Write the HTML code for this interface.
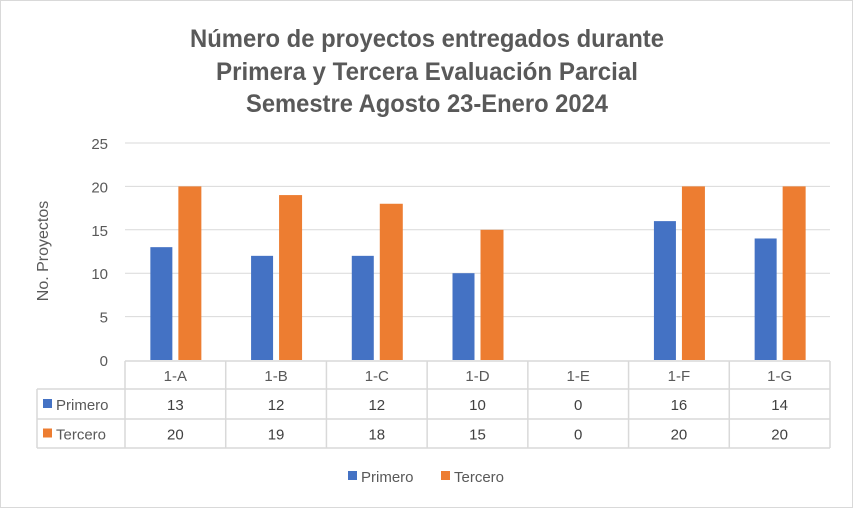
<!DOCTYPE html>
<html><head><meta charset="utf-8"><style>
body{margin:0;background:#fff}
svg{display:block;font-family:"Liberation Sans",sans-serif}
</style></head><body>
<svg id="c" width="853" height="508">
<rect x="0.5" y="0.5" width="852" height="507" fill="#fff" stroke="#d9d9d9"/>
<g font-family="'Liberation Sans',sans-serif" font-weight="bold" font-size="25" fill="#595959" text-anchor="middle">
<text x="427" y="47" textLength="474" lengthAdjust="spacingAndGlyphs">Número de proyectos entregados durante</text>
<text x="427" y="80" textLength="422" lengthAdjust="spacingAndGlyphs">Primera y Tercera Evaluación Parcial</text>
<text x="427" y="112" textLength="362" lengthAdjust="spacingAndGlyphs">Semestre Agosto 23-Enero 2024</text>
</g>
<text transform="translate(48,251) rotate(-90)" text-anchor="middle" font-size="16" fill="#595959">No. Proyectos</text>
<g id="grid"></g><g id="bars"></g><g id="table"></g>
<g>
<rect x="348" y="471" width="9" height="9" fill="#4472c4"/>
<text x="361" y="482" font-size="15" fill="#595959">Primero</text>
<rect x="441" y="471" width="9" height="9" fill="#ed7d31"/>
<text x="454" y="482" font-size="15" fill="#595959">Tercero</text>
</g>
</svg>
<script>
const categories=["1-A","1-B","1-C","1-D","1-E","1-F","1-G"];
const primero=[13,12,12,10,0,16,14];
const tercero=[20,19,18,15,0,20,20];
const yTicks=[0,5,10,15,20,25];
const NS="http://www.w3.org/2000/svg";
const X0=125,X1=830,Y0=360,Y1=143,YMAX=25;
const bw=(X1-X0)/categories.length;
const y=v=>Y0-(Y0-Y1)*v/YMAX;
const xc=i=>X0+bw*(i+0.5);
function mk(p,t,a){const e=document.createElementNS(NS,t);for(const k in a)e.setAttribute(k,a[k]);p.appendChild(e);return e;}
const grid=document.getElementById('grid'),bars=document.getElementById('bars'),tb=document.getElementById('table');
yTicks.forEach(t=>{
 if(t>0){const l=mk(grid,'line',{x1:X0,x2:X1,y1:y(t),y2:y(t),stroke:'#d9d9d9'});
 
 }
 const tx=mk(grid,'text',{x:108,y:y(t)+6,'text-anchor':'end','font-size':15,fill:'#595959'});tx.textContent=t;
 
 
});
categories.forEach((c,i)=>{
 const b1=mk(bars,'rect',{x:xc(i)-25,y:y(primero[i]),width:22,height:Y0-y(primero[i]),fill:'#4472c4'});
 
 
 const b2=mk(bars,'rect',{x:xc(i)+3,y:y(tercero[i]),width:23,height:Y0-y(tercero[i]),fill:'#ed7d31'});
 
 
});
const rows=[361,389,419,448];
const st={stroke:'#d9d9d9','stroke-width':1.5};
mk(tb,'line',Object.assign({x1:X0,x2:X1,y1:rows[0],y2:rows[0]},st));
for(let r=1;r<4;r++)mk(tb,'line',Object.assign({x1:37,x2:X1,y1:rows[r],y2:rows[r]},st));
mk(tb,'line',Object.assign({x1:37,x2:37,y1:rows[1],y2:rows[3]},st));
for(let i=0;i<=categories.length;i++)mk(tb,'line',Object.assign({x1:X0+bw*i,x2:X0+bw*i,y1:rows[0],y2:rows[3]},st));
[["Primero","#4472c4",primero],["Tercero","#ed7d31",tercero]].forEach((s,r)=>{
 const cy=(rows[r+1]+rows[r+2])/2;
 mk(tb,'rect',{x:43,y:cy-5,width:9,height:9,fill:s[1]});
 const lt=mk(tb,'text',{x:56,y:cy+6,'font-size':15,fill:'#595959'});lt.textContent=s[0];
 
 
 s[2].forEach((v,i)=>{const t=mk(tb,'text',{x:xc(i),y:cy+6,'text-anchor':'middle','font-size':15,fill:'#404040'});t.textContent=v;
 
 });
});
categories.forEach((c,i)=>{const t=mk(tb,'text',{x:xc(i),y:(rows[0]+rows[1])/2+6,'text-anchor':'middle','font-size':15,fill:'#595959'});t.textContent=c;
 
 });
</script>
</body></html>
